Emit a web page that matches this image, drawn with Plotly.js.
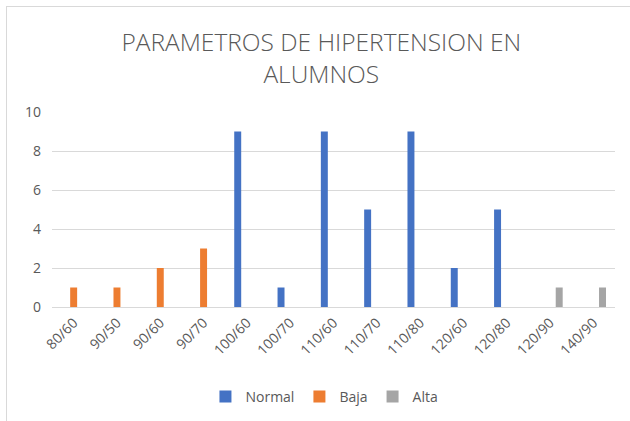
<!DOCTYPE html>
<html>
<head>
<meta charset="utf-8">
<script src="https://cdn.plot.ly/plotly-3.0.1.min.js"></script>
<style>
  html, body { margin: 0; padding: 0; background: #fff; }
  #wrap { position: relative; width: 630px; height: 421px; }
  #chart { width: 630px; height: 421px; }
  #frame { position: absolute; left: 6px; top: 6px; right: 0; bottom: 0;
           border-left: 1px solid #d9d9d9; border-top: 1px solid #d9d9d9; pointer-events: none; }
</style>
</head>
<body>
<div id="wrap">
  <div id="chart"></div>
  <div id="frame"></div>
</div>
<script>
const categories = ["80/60", "90/50", "90/60", "90/70", "100/60", "100/70", "110/60", "110/70", "110/80", "120/60", "120/80", "120/90", "140/90"];
const normal = [null, null, null, null, 9, 1, 9, 5, 9, 2, 5, null, null];
const baja   = [1, 1, 2, 3, null, null, null, null, null, null, null, null, null];
const alta   = [null, null, null, null, null, null, null, null, null, null, null, 1, 1];
const yTicks = [0, 2, 4, 6, 8, 10];

const fontFam = "'Open Sans', 'Noto Sans', sans-serif";
const traces = [
  { type: "bar", name: "Normal", x: categories, y: normal, marker: { color: "#4472C4" } },
  { type: "bar", name: "Baja", x: categories, y: baja, marker: { color: "#ED7D31" } },
  { type: "bar", name: "Alta", x: categories, y: alta, marker: { color: "#A5A5A5" } }
];

const layout = {
  width: 630, height: 421,
  paper_bgcolor: "#ffffff", plot_bgcolor: "#ffffff",
  margin: { l: 52, r: 15, t: 112, b: 114 },
  barmode: "group", bargap: 0.365, bargroupgap: 0.24,
  title: {
    text: "PARAMETROS DE HIPERTENSION EN<br>ALUMNOS",
    font: { family: fontFam, size: 24.5, color: "#595959", weight: 300 },
    x: 0.51, xanchor: "center", xref: "container",
    y: 1 - 51 / 421, yanchor: "middle", yref: "container"
  },
  xaxis: {
    type: "category", tickangle: -45,
    tickfont: { family: fontFam, size: 14, color: "#595959" },
    showgrid: false, showline: false, ticks: "", fixedrange: true,
    ticklabelstandoff: 4
  },
  yaxis: {
    range: [0, 10], tickvals: yTicks,
    tickfont: { family: fontFam, size: 14, color: "#595959" },
    showgrid: true, gridcolor: "#d9d9d9", gridwidth: 1,
    zeroline: true, zerolinecolor: "#d9d9d9", zerolinewidth: 1,
    showline: false, ticks: "", ticklen: 0, fixedrange: true,
    ticklabelstandoff: 10
  },
  legend: {
    orientation: "h", x: 0.515, xanchor: "center", xref: "container",
    y: 1 - 397 / 421, yanchor: "middle", yref: "container",
    font: { family: fontFam, size: 14, color: "#595959" },
    itemwidth: 30, traceorder: "normal"
  },
  showlegend: true
};

Plotly.newPlot("chart", traces, layout, { displayModeBar: false, staticPlot: true });
</script>
</body>
</html>
